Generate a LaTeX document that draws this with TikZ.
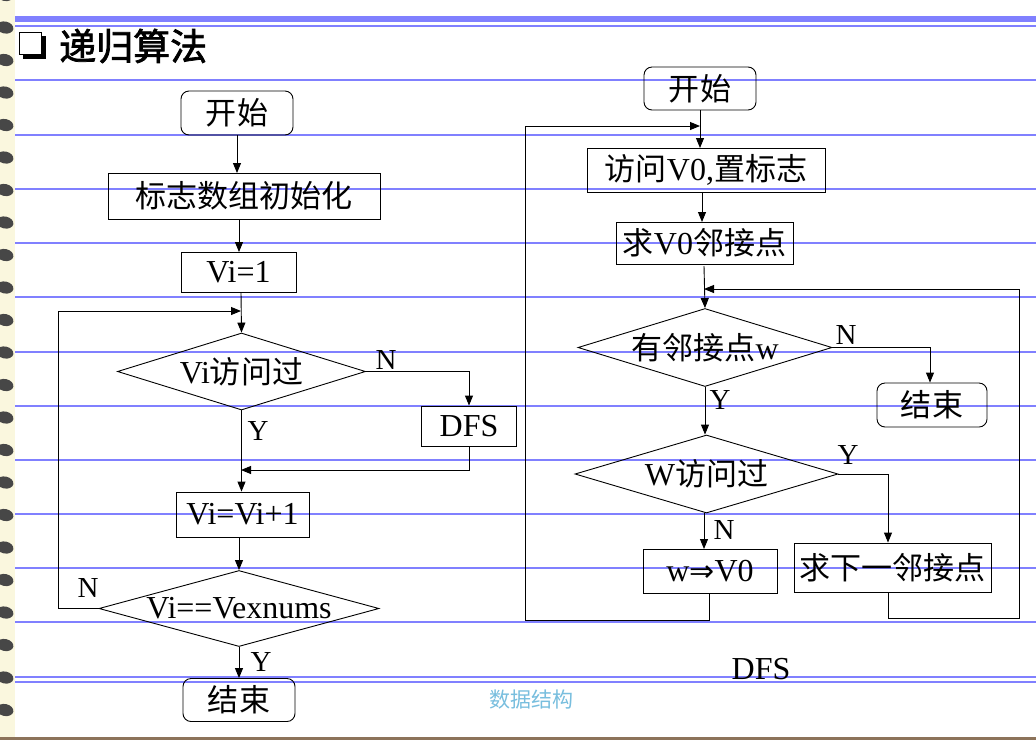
\documentclass[tikz,border=0pt]{standalone}
\usepackage{fontspec}
\setmainfont{Liberation Serif}
\newfontfamily\cjk[Scale=0.97]{Noto Sans CJK SC}
\newfontfamily\cjkb[AutoFakeBold=2]{Noto Sans CJK SC}
\newfontfamily\cjks{Noto Sans CJK SC}
\newfontfamily\djv{DejaVu Sans}
\newcommand\zh[1]{{\cjk #1}}
\usetikzlibrary{arrows.meta,shapes.geometric}
\definecolor{rulec}{RGB}{128,128,255}
\definecolor{cream}{RGB}{250,247,222}
\definecolor{bindbrown}{RGB}{140,115,90}
\definecolor{footblue}{RGB}{120,190,222}
\begin{document}
\begin{tikzpicture}[x=1pt,y=-1pt,
  ln/.style={line width=0.9pt},
  arr/.style={ln,-{Triangle[length=10pt,width=8pt]}},
  txt/.style={font=\fontsize{32}{38}\selectfont},
  box/.style={draw,ln,rectangle,inner sep=0pt,txt},
  rbox/.style={box,rounded corners=8pt},
  dia/.style={draw,ln,diamond,inner sep=0pt},
  lab/.style={txt,inner sep=0pt},
  yn/.style={font=\fontsize{29}{34}\selectfont,inner sep=0pt},
  rulel/.style={draw=rulec,line width=2pt}]
\useasboundingbox (0,0) rectangle (1036,740);
% ---- page background
\fill[white] (0,0) rectangle (1036,740);
\fill[cream] (0,0) rectangle (15,740);
\foreach \k in {-1,...,21}
  \fill[black!72,rotate around={-12:(5,{27.5+32.5*\k})}] (5,{27.5+32.5*\k}) ellipse [x radius=8.5pt, y radius=6pt];
\fill[rulec] (15,16) rectangle (1036,21.5);
\draw[rulel] (15,26) -- (1036,26);
\foreach \y in {80,134.5,189,243,297,352,406,460,514,568,622,677,682}
  \draw[rulel] (15,\y) -- (1036,\y);
\fill[bindbrown] (0,737) rectangle (1036,740);
% ---- title
\fill[black] (23,36) rectangle (46,59);
\filldraw[fill=white,draw=black,line width=1pt] (19.5,32.5) rectangle (41,54);
\node[anchor=west,inner sep=0pt,font=\fontsize{37}{42}\selectfont\cjkb\bfseries] (title) at (59,46) {递归算法};
% ---- left flowchart
\node[rbox,minimum width=112pt,minimum height=44pt] (s1) at (237,113) {\zh{开始}};
\node[box,minimum width=272pt,minimum height=46pt] (b1) at (244,196) {\zh{标志数组初始化}};
\node[box,minimum width=115pt,minimum height=40pt] (b2) at (238.5,272) {Vi=1};
\node[dia,minimum width=248pt,minimum height=77pt,label={[lab]center:Vi\zh{访问过}}] (d1) at (241.5,371.5) {};
\node[box,minimum width=95pt,minimum height=40pt] (b3) at (469,426) {DFS};
\node[box,minimum width=133pt,minimum height=45pt] (b4) at (242.5,514.5) {Vi=Vi+1};
\node[dia,minimum width=280pt,minimum height=76pt,label={[lab]center:Vi==Vexnums}] (d2) at (239,608.5) {};
\node[rbox,minimum width=112pt,minimum height=43pt] (e1) at (239,700) {\zh{结束}};
\coordinate (j1) at (241,311);
\coordinate (j2) at (241,470);
\coordinate (lx) at (58,311);
\draw[arr] (s1.south -| 237,0) -- (237,173);
\draw[arr] (239,219) -- (239,252);
\draw[arr] (241,292) -- (d1.north);
\draw[arr] (d2.west) -- (lx |- d2.west) -- (lx) -- (j1);
\draw[arr] (d1.east) -| (b3.north);
\draw[arr] (b3.south) |- (j2);
\draw[arr] (d1.south) -- (b4.north -| d1.south);
\draw[arr] (b4.south -| d2.north) -- (d2.north);
\draw[arr] (d2.south) -- (e1.north -| d2.south);
\node[yn] (n1) at (386,360) {N};
\node[yn] (y1) at (258,431) {Y};
\node[yn] (n2) at (88,588) {N};
\node[yn] (y2) at (261,662) {Y};
% ---- right flowchart
\node[rbox,minimum width=112pt,minimum height=43pt] (s2) at (700,88.5) {\zh{开始}};
\node[box,minimum width=238pt,minimum height=44pt] (b5) at (706,170) {\zh{访问}V0,\zh{置标志}};
\node[box,minimum width=177pt,minimum height=42pt] (b6) at (704.5,243) {\zh{求}V0\zh{邻接点}};
\node[dia,minimum width=254pt,minimum height=78pt,label={[lab]center:\zh{有邻接点}w}] (d3) at (705,347.5) {};
\node[rbox,minimum width=110pt,minimum height=44pt] (e2) at (932,405) {\zh{结束}};
\node[dia,minimum width=263pt,minimum height=78pt,label={[lab]center:W\zh{访问过}}] (d4) at (706.5,474) {};
\node[box,minimum width=134pt,minimum height=44pt] (b7) at (710,571) {w{\djv\fontsize{30}{34}\selectfont ⇒}V0};
\node[box,minimum width=197pt,minimum height=49pt] (b8) at (892.5,567.5) {\zh{求下一邻接点}};
\coordinate (j3) at (700,126);
\coordinate (j4) at (704,289);
\coordinate (lx2) at (525,620);
\coordinate (rx2) at (1019,618);
\draw[arr] (700,110) -- (700,148);
\draw[arr] (709,593) -- (709,620) -- (lx2) -- (lx2 |- j3) -- (j3);
\draw[arr] (702,192) -- (702,222);
\draw[arr] (704,266) -- (d3.north);
\draw[arr] (888,592) -- (888,618) -- (rx2) -- (rx2 |- j4) -- (j4);
\draw[arr] (d3.east) -| (e2.north -| 930,0);
\draw[arr] (d3.south) -- (d4.north -| d3.south);
\draw[arr] (d4.east) -| (b8.north -| 888,0);
\draw[arr] (704,513) -- (704,549);
\node[yn] (n3) at (846,335) {N};
\node[yn] (y3) at (720,400) {Y};
\node[yn] (y4) at (848,455) {Y};
\node[yn] (n4) at (724,530) {N};
% ---- captions
\node[txt,inner sep=0pt] (cap) at (761,669) {DFS};
\node[inner sep=0pt,text=footblue,font=\fontsize{21}{25}\selectfont\cjks] (foot) at (531,700) {数据结构};
\end{tikzpicture}
\end{document}
